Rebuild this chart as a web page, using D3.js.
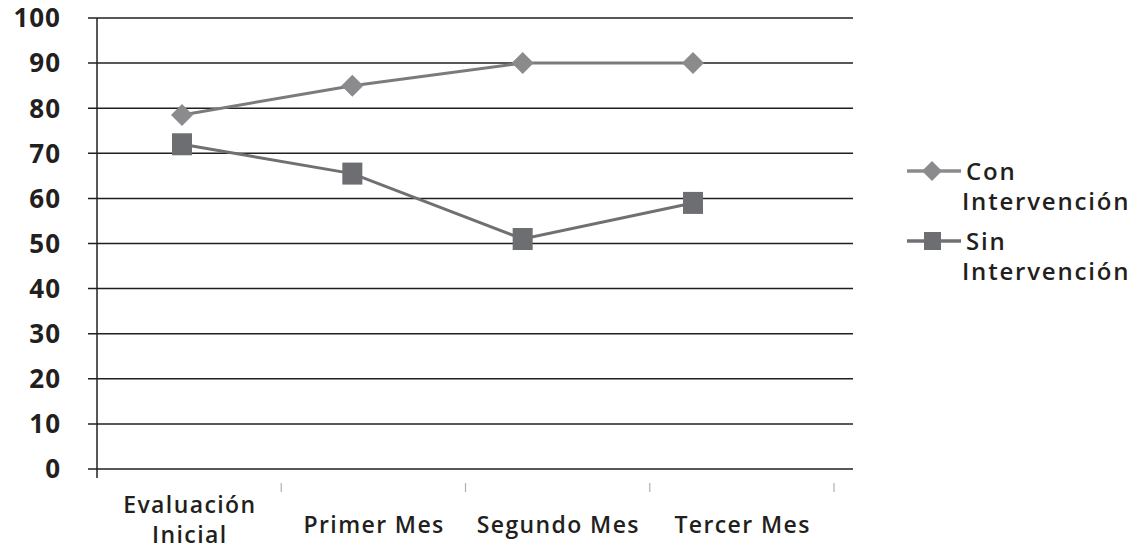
<!DOCTYPE html>
<html><head><meta charset="utf-8">
<script src="https://cdn.jsdelivr.net/npm/d3@7"></script>
<style>
body{margin:0;background:#fff;}
text{font-family:"Open Sans",sans-serif;font-weight:600;fill:#231f20;}
</style></head><body>
<svg id="c" width="1143" height="551"></svg>
<script>
const categories = ["Evaluación Inicial","Primer Mes","Segundo Mes","Tercer Mes"];
const conIntervencion = [78.5, 85, 90, 90];
const sinIntervencion = [72, 65.5, 51, 59];
const yTicks = [0,10,20,30,40,50,60,70,80,90,100];
const seriesNames = ["Con Intervención","Sin Intervención"];

const svg = d3.select("#c");
const y = d3.scaleLinear().domain([0,100]).range([469,18]);
const xPt = d3.scalePoint().domain(categories).range([182,693]);
const xBand = d3.scaleBand().domain(categories).range([97,834]);

// gridlines
svg.append("g").selectAll("line").data(yTicks).join("line")
  .attr("x1",88).attr("x2",853)
  .attr("y1",d=>y(d)).attr("y2",d=>y(d))
  .attr("stroke","#231f20").attr("stroke-width",1.5);
// y axis line
svg.append("line").attr("x1",97).attr("x2",97).attr("y1",y(100)).attr("y2",y(0)+9)
  .attr("stroke","#231f20").attr("stroke-width",1.5);
// y labels
svg.append("g").selectAll("text").data(yTicks).join("text")
  .attr("x",61).attr("y",d=>y(d)).attr("dy","0.36em")
  .attr("text-anchor","end").style("font-size","26px").style("font-weight","700")
  .style("letter-spacing","1px")
  .text(d=>d);
// category ticks
svg.append("g").selectAll("line").data(categories).join("line")
  .attr("x1",d=>xBand(d)+xBand.bandwidth()).attr("x2",d=>xBand(d)+xBand.bandwidth())
  .attr("y1",483).attr("y2",492).attr("stroke","#b0b0b0").attr("stroke-width",1.2);
// category labels
const cl = svg.append("g").selectAll("text").data(categories).join("text")
  .attr("text-anchor","middle").style("font-size","23px").style("letter-spacing","1.4px");
cl.each(function(d){
  const words = d.split(" ");
  const t = d3.select(this);
  const cx = xBand(d)+xBand.bandwidth()/2 + 0.7;
  if (d === "Evaluación Inicial") {
    t.append("tspan").attr("x",cx).attr("y",505).attr("dy","0.36em").text(words[0]);
    t.append("tspan").attr("x",cx).attr("y",535).attr("dy","0.36em").text(words[1]);
  } else {
    t.append("tspan").attr("x",cx).attr("y",525).attr("dy","0.36em").text(d);
  }
});

const line = d3.line().x((d,i)=>xPt(categories[i])).y(d=>y(d));
svg.append("path").datum(conIntervencion).attr("d",line)
  .attr("fill","none").attr("stroke","#7b7b7e").attr("stroke-width",3);
svg.append("path").datum(sinIntervencion).attr("d",line)
  .attr("fill","none").attr("stroke","#707074").attr("stroke-width",3);

const diamond = s => `M0,${-s}L${s},0L0,${s}L${-s},0Z`;
svg.append("g").selectAll("path").data(conIntervencion).join("path")
  .attr("transform",(d,i)=>`translate(${xPt(categories[i])},${y(d)})`)
  .attr("d",diamond(11)).attr("fill","#8b8b8e");
svg.append("g").selectAll("rect").data(sinIntervencion).join("rect")
  .attr("x",(d,i)=>xPt(categories[i])-10).attr("y",d=>y(d)-11)
  .attr("width",20).attr("height",22).attr("fill","#6d6e72");

// legend
const lg = svg.append("g");
const legY = [171,241];
seriesNames.forEach((name,k)=>{
  const yy = legY[k];
  lg.append("line").attr("x1",907).attr("x2",961).attr("y1",yy).attr("y2",yy)
    .attr("stroke",k===0?"#8b8b8e":"#707074").attr("stroke-width",3.5);
  if(k===0){
    lg.append("path").attr("transform",`translate(932,${yy})`).attr("d",diamond(10)).attr("fill","#8b8b8e");
  } else {
    lg.append("rect").attr("x",924).attr("y",yy-9).attr("width",17).attr("height",18).attr("fill","#6d6e72");
  }
  const parts = name.split(" ");
  lg.append("text").attr("x",966).attr("y",yy).attr("dy","0.36em")
    .style("font-size","24px").style("letter-spacing","1.8px").text(parts[0]);
  lg.append("text").attr("x",962).attr("y",yy+30).attr("dy","0.36em")
    .style("font-size","24px").style("letter-spacing","1.8px").text(parts[1]);
});
</script></body></html>
